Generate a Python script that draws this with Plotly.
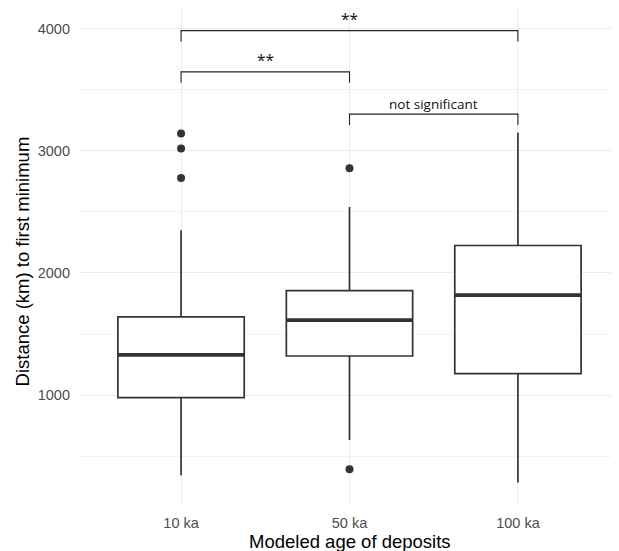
import plotly.graph_objects as go

# ---- data ----
categories = ["10 ka", "50 ka", "100 ka"]
q1 = [979, 1320, 1176]
median = [1329, 1614, 1819]
q3 = [1641, 1855, 2225]
lower_whisker = [343, 633, 285]
upper_whisker = [2349, 2540, 3150]
outliers = {
    "10 ka": [3142, 3019, 2778],
    "50 ka": [2858, 392],
    "100 ka": [],
}
# significance brackets: (group a index, group b index, bar height, label)
comparisons = [
    (0, 1, 3647, "**"),
    (0, 2, 3985, "**"),
    (1, 2, 3301, "not significant"),
]
tip_length = 90

y_ticks = [1000, 2000, 3000, 4000]

box_color = "#333333"
xpos = [i + 1 for i in range(len(categories))]
half_w = 0.375

fig = go.Figure()

for i, cat in enumerate(categories):
    fig.add_trace(go.Box(
        x=[xpos[i]], q1=[q1[i]], median=[median[i]], q3=[q3[i]],
        lowerfence=[lower_whisker[i]], upperfence=[upper_whisker[i]],
        width=0.75, whiskerwidth=0, fillcolor="white",
        line=dict(color=box_color, width=1.7),
        boxpoints=False, showlegend=False, hoverinfo="skip",
    ))
    # thick median
    fig.add_trace(go.Scatter(
        x=[xpos[i] - half_w, xpos[i] + half_w], y=[median[i], median[i]],
        mode="lines", line=dict(color=box_color, width=3.6),
        showlegend=False, hoverinfo="skip",
    ))
    if outliers[cat]:
        fig.add_trace(go.Scatter(
            x=[xpos[i]] * len(outliers[cat]), y=outliers[cat],
            mode="markers", marker=dict(color=box_color, size=8),
            showlegend=False, hoverinfo="skip",
        ))

for a, b, h, label in comparisons:
    xa, xb = xpos[a], xpos[b]
    fig.add_trace(go.Scatter(
        x=[xa, xa, xb, xb], y=[h - tip_length, h, h, h - tip_length],
        mode="lines", line=dict(color="#222222", width=1.1),
        showlegend=False, hoverinfo="skip",
    ))
    is_star = label == "**"
    fig.add_annotation(
        x=(xa + xb) / 2, y=h, text=label, showarrow=False,
        yanchor="bottom", yshift=0, borderpad=0,
        font=dict(family="Open Sans, Liberation Sans", size=15.5 if is_star else 13.5,
                  color="#111111"),
    )

fig.add_annotation(
    xref="paper", yref="paper", x=0.5, y=-0.0738, text="Modeled age of deposits",
    showarrow=False, xanchor="center", yanchor="middle",
    font=dict(family="Liberation Sans, Arial", size=18.5, color="#000000"),
)
fig.add_annotation(
    xref="paper", yref="paper", x=-0.1076, y=0.49, text="Distance (km) to first minimum",
    showarrow=False, xanchor="center", yanchor="middle", textangle=-90,
    font=dict(family="Liberation Sans, Arial", size=18.5, color="#000000"),
)

fig.update_layout(
    width=611, height=543,
    margin=dict(l=72, r=0, t=0, b=46),
    plot_bgcolor="white", paper_bgcolor="white",
    font=dict(family="Liberation Sans, Arial"),
    xaxis=dict(
        range=[0.4, 3.6], tickmode="array", tickvals=xpos, ticktext=categories,
        showgrid=True, gridcolor="#EBEBEB", gridwidth=1.1, zeroline=False,
        showline=False, ticks="", ticklabelstandoff=7,
        tickfont=dict(size=14.5, color="#4D4D4D"),
    ),
    yaxis=dict(
        range=[100, 4170], tickmode="array", tickvals=y_ticks,
        showgrid=True, gridcolor="#EBEBEB", gridwidth=1.1, zeroline=False,
        showline=False, ticks="", ticklabelstandoff=9,
        tickfont=dict(size=14.5, color="#4D4D4D"),
        minor=dict(tickmode="array", tickvals=[500, 1500, 2500, 3500],
                   showgrid=True, gridcolor="#F2F2F2", gridwidth=0.8),
    ),
)

fig.write_html("out.html")
